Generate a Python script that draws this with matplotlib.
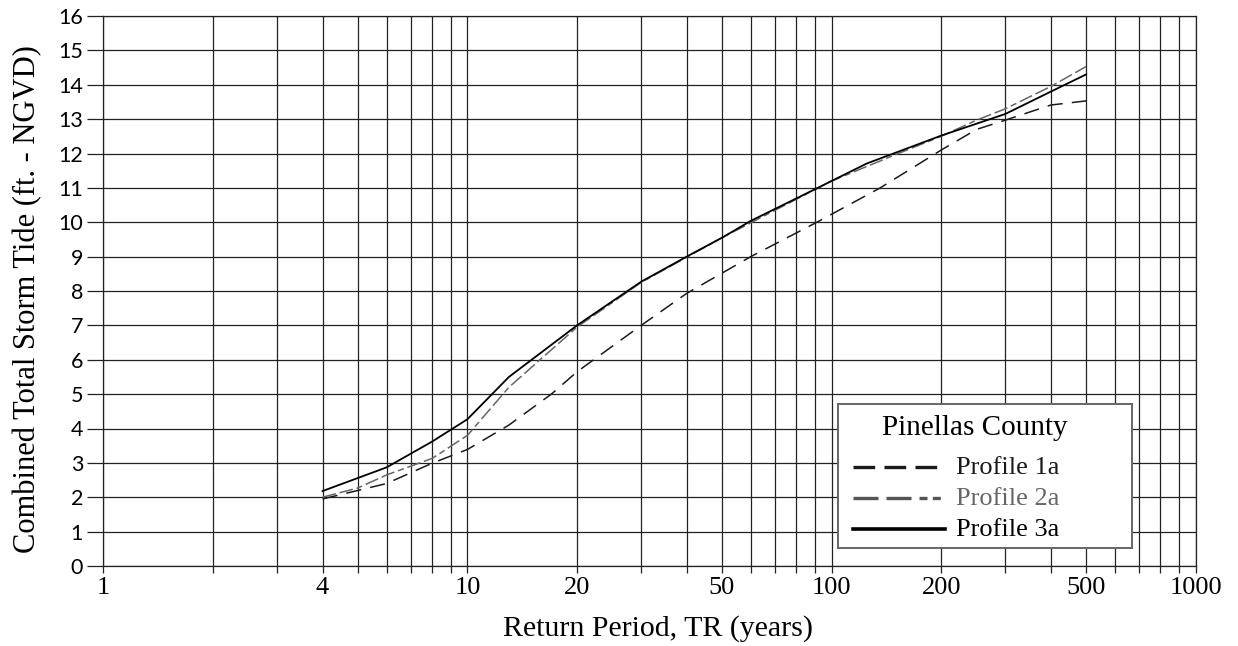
import numpy as np
import matplotlib
matplotlib.use("Agg")
import matplotlib.pyplot as plt
from matplotlib.lines import Line2D
from matplotlib.patches import Rectangle
from matplotlib.ticker import FixedLocator, NullFormatter

# Return period (years) and combined storm tide (ft NGVD)
tr_1a = [4, 6, 8, 10, 13, 17, 20, 30, 40, 60, 90, 136, 200, 250, 300, 400, 500]
tide_1a = [1.95, 2.4, 2.99, 3.39, 4.1, 5.0, 5.65, 7.0, 7.93, 9.0, 9.97, 11.0,
           12.1, 12.7, 12.97, 13.41, 13.53]

tr_2a = [4, 5, 6, 8, 10, 13, 20, 30, 50, 100, 150, 200, 250, 300, 400, 500]
tide_2a = [2.0, 2.27, 2.65, 3.13, 3.8, 5.2, 6.95, 8.25, 9.55, 11.2, 11.97,
           12.5, 12.97, 13.3, 13.95, 14.53]

tr_3a = [4, 6, 8, 10, 13, 20, 30, 40, 50, 60, 90, 125, 200, 300, 400, 500]
tide_3a = [2.18, 2.87, 3.62, 4.27, 5.5, 7.0, 8.27, 9.0, 9.55, 10.04, 10.96,
           11.71, 12.52, 13.15, 13.8, 14.3]

x_labels = [1, 4, 10, 20, 50, 100, 200, 500, 1000]
y_ticks = list(range(0, 17))
series_names = ["Profile 1a", "Profile 2a", "Profile 3a"]
legend_title = "Pinellas County"

grid_x = [m * 10 ** d for d in range(3) for m in range(1, 10)] + [1000]

W, H = 1238, 646
AX_L, AX_R, AX_T, AX_B = 103.3, 1195.7, 16, 566

fig = plt.figure(figsize=(W / 100, H / 100), dpi=100)
ax = fig.add_axes([AX_L / W, 1 - AX_B / H, (AX_R - AX_L) / W, (AX_B - AX_T) / H])


def ax_xy(px, py):
    # pixel position -> axes fraction (used for the hand-made legend only)
    return (px - AX_L) / (AX_R - AX_L), (AX_B - py) / (AX_B - AX_T)


ax.set_xscale("log")
ax.set_xlim(1, 1000)
ax.set_ylim(0, 16)

# grid
for gx in grid_x:
    ax.axvline(gx, color="#222222", lw=0.9, zorder=1)
for gy in y_ticks:
    ax.axhline(gy, color="#222222", lw=0.9, zorder=1)

ax.plot(tr_1a, tide_1a, color="#1a1a1a", lw=1.1, dashes=(10, 6), zorder=3)
ax.plot(tr_2a, tide_2a, color="#666666", lw=1.1, dashes=(9, 2.5, 9, 2.5, 4, 2.5), zorder=3)
ax.plot(tr_3a, tide_3a, color="black", lw=1.3, zorder=4)

for s in ax.spines.values():
    s.set_color("#222222")
    s.set_linewidth(0.9)

# x ticks
ax.xaxis.set_major_locator(FixedLocator(x_labels))
ax.xaxis.set_minor_locator(FixedLocator(grid_x))
ax.xaxis.set_minor_formatter(NullFormatter())
ax.set_xticklabels([str(v) for v in x_labels], fontfamily="Liberation Serif", fontsize=19)
ax.tick_params(axis="x", which="both", direction="out", length=5, width=0.9,
               color="#222222", pad=3)

# y ticks
ax.set_yticks(y_ticks)
ax.set_yticklabels([str(v) for v in y_ticks], fontfamily="Lato", fontsize=15.5)
ax.tick_params(axis="y", direction="out", length=11.5, width=0.9, color="#222222", pad=3)

ax.set_xlabel("Return Period, TR (years)", fontfamily="Liberation Serif", fontsize=21.5)
ax.xaxis.set_label_coords(0.508, -0.089)
ax.set_ylabel("Combined Total Storm Tide (ft. - NGVD)", fontfamily="Liberation Serif",
              fontsize=22)
ax.yaxis.set_label_coords(-0.056, 0.486)

# legend box drawn by hand to match the boxed key of the original
x0, y0 = ax_xy(838, 548)
x1, y1 = ax_xy(1132, 404)
ax.add_patch(Rectangle((x0, y0), x1 - x0, y1 - y0, transform=ax.transAxes,
                       facecolor="white", edgecolor="#666666", lw=1.4, zorder=6))
tx, ty = ax_xy(975, 428)
ax.text(tx, ty, legend_title, transform=ax.transAxes, ha="center", va="center",
        fontfamily="Liberation Serif", fontsize=21, zorder=7)

styles = [
    dict(color="#1a1a1a", lw=2.4, dashes=(6.5, 2.8)),
    dict(color="#555555", lw=2.4, dashes=(7.5, 2.4, 7.5, 2.4, 2.4, 1.6, 2.4, 2.4)),
    dict(color="black", lw=2.6),
]
text_cols = ["#1a1a1a", "#666666", "black"]
for name, st, tc, py in zip(series_names, styles, text_cols, [468, 499, 530]):
    lx0, ly = ax_xy(853, py - 1)
    lx1, _ = ax_xy(945, py - 1)
    ax.add_line(Line2D([lx0, lx1], [ly, ly], transform=ax.transAxes, zorder=7, **st))
    px_, py_ = ax_xy(956, py)
    ax.text(px_, py_, name, transform=ax.transAxes, ha="left", va="center",
            color=tc, fontfamily="Liberation Serif", fontsize=19, zorder=7)

fig.savefig("out.png", dpi=100)
